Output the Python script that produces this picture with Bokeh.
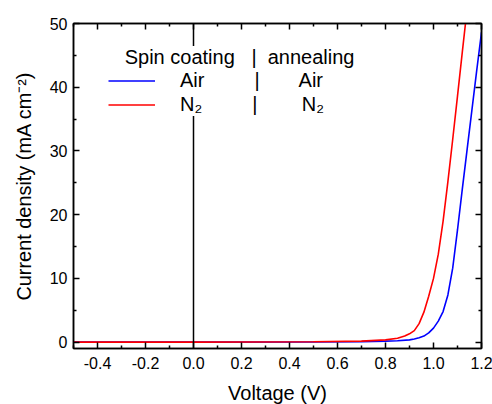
from bokeh.plotting import figure
from bokeh.models import (Range1d, FixedTicker, LinearAxis, Span, Legend, LegendItem,
                          NumeralTickFormatter, CustomLabelingPolicy)
from bokeh.embed import file_html
from bokeh.resources import INLINE

# ---- data ----
voltage_n2 = [-0.5, 0.0, 0.5, 0.7, 0.8, 0.85, 0.88, 0.90, 0.92, 0.94, 0.96, 0.98,
              1.00, 1.02, 1.04, 1.06, 1.08, 1.10, 1.12, 1.14]
current_n2 = [0.0, 0.0, 0.05, 0.15, 0.35, 0.6, 0.95, 1.3, 1.8, 2.9, 4.7, 7.2,
              10.0, 13.8, 19.0, 25.2, 31.8, 38.6, 45.5, 52.3]

voltage_air = [-0.5, 0.0, 0.5, 0.7, 0.8, 0.85, 0.90, 0.92, 0.94, 0.96, 0.98, 1.00,
               1.02, 1.04, 1.06, 1.08, 1.10, 1.12, 1.14, 1.16, 1.18, 1.20]
current_air = [0.0, 0.0, 0.03, 0.08, 0.15, 0.22, 0.35, 0.5, 0.7, 0.95, 1.45, 2.2,
               3.3, 4.8, 7.4, 11.6, 17.6, 24.0, 30.2, 36.4, 42.6, 48.6]

x_ticks = [-0.4, -0.2, 0.0, 0.2, 0.4, 0.6, 0.8, 1.0, 1.2]
x_minor = [-0.5, -0.3, -0.1, 0.1, 0.3, 0.5, 0.7, 0.9, 1.1]
y_ticks = [0, 10, 20, 30, 40, 50]
y_minor = [5, 15, 25, 35, 45]

NB = "\u00a0"
legend_title = NB * 3 + "Spin coating" + NB * 3 + "|" + NB * 2 + "annealing"
label_air = "Air" + NB * 9 + "|" + NB * 7 + "Air"
label_n2 = "N\u2082" + NB * 9 + "|" + NB * 8 + "N\u2082"

FONT = "Liberation Sans"

p = figure(frame_width=408, frame_height=325, output_backend="svg", toolbar_location=None,
           x_range=Range1d(-0.5, 1.2), y_range=Range1d(-1, 50),
           min_border_left=73, min_border_right=11, min_border_top=23, min_border_bottom=56,
           background_fill_color="white", border_fill_color="white")
p.grid.visible = False
p.outline_line_color = "black"
p.outline_line_width = 1.5

xt = FixedTicker(ticks=x_ticks, minor_ticks=x_minor)
yt = FixedTicker(ticks=y_ticks, minor_ticks=y_minor)

no_labels = CustomLabelingPolicy(code="""
    for (const i of indices)
        indices.unset(i)
    return indices
""")

def style(ax, ticker, show_labels):
    ax.ticker = ticker
    ax.axis_line_color = "black"
    ax.axis_line_width = 1.5
    ax.major_tick_line_color = "black"
    ax.minor_tick_line_color = "black"
    ax.major_tick_line_width = 1.5
    ax.minor_tick_line_width = 1.5
    ax.major_tick_in = 6
    ax.major_tick_out = 0
    ax.minor_tick_in = 3
    ax.minor_tick_out = 0
    ax.major_label_text_font = FONT
    ax.major_label_text_color = "black"
    ax.major_label_text_font_size = "16px"
    if not show_labels:
        ax.major_label_policy = no_labels
        ax.major_label_standoff = 0

style(p.xaxis[0], xt, True)
style(p.yaxis[0], yt, True)
p.xaxis[0].formatter = NumeralTickFormatter(format="0.0")
p.xaxis[0].major_label_standoff = 8
p.yaxis[0].major_label_standoff = 6

xa = p.xaxis[0]
xa.axis_label = "Voltage (V)"
xa.axis_label_text_font = FONT
xa.axis_label_text_font_size = "20px"
xa.axis_label_text_font_style = "normal"
xa.axis_label_text_color = "black"
xa.axis_label_standoff = 10

ya = p.yaxis[0]
ya.axis_label = "Current density (mA cm\u207b\u00b2)"
ya.axis_label_text_font = FONT
ya.axis_label_text_font_size = "19.9px"
ya.axis_label_text_font_style = "normal"
ya.axis_label_text_color = "black"
ya.axis_label_standoff = 12

top_ax = LinearAxis()
right_ax = LinearAxis()
style(top_ax, xt, False)
style(right_ax, yt, False)
p.add_layout(top_ax, "above")
p.add_layout(right_ax, "right")

zero_line = Span(location=0, dimension="height", line_color="black", line_width=1.5)
p.add_layout(zero_line)

r_air = p.line(voltage_air, current_air, line_color="#0000ff", line_width=1.6)
r_n2 = p.line(voltage_n2, current_n2, line_color="#ff0000", line_width=1.6)

legend = Legend(items=[LegendItem(label=label_air, renderers=[r_air]),
                       LegendItem(label=label_n2, renderers=[r_n2])],
                title=legend_title, location=(35, 232),
                background_fill_color="white", background_fill_alpha=1.0,
                border_line_color=None, padding=8, margin=0,
                glyph_width=47, glyph_height=21, label_height=21, spacing=1,
                label_standoff=25, title_standoff=0,
                label_text_font=FONT, label_text_font_size="20px", label_text_color="black",
                title_text_font=FONT, title_text_font_size="20px", title_text_color="black",
                title_text_font_style="normal")
p.add_layout(legend)

open("out.html", "w").write(file_html(p, INLINE))
